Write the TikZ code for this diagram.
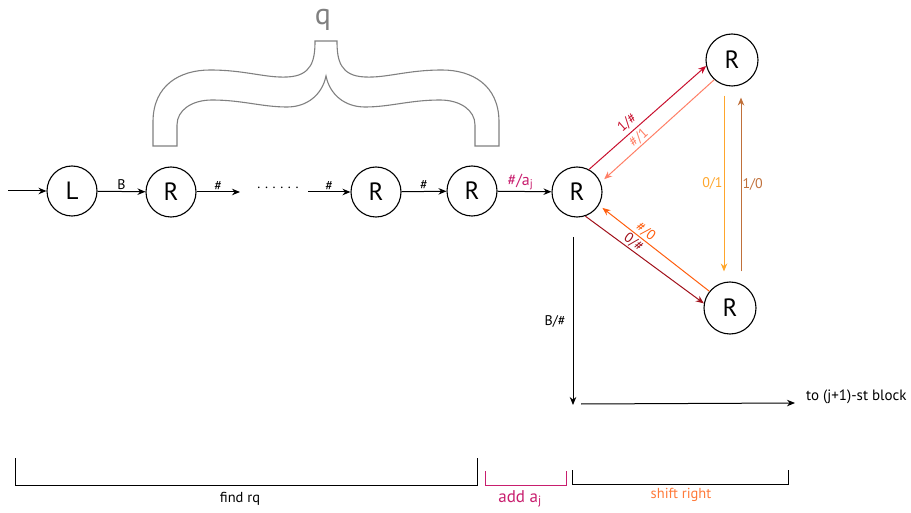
\documentclass[tikz,border=0pt]{standalone}
\usepackage{fontspec}
\setmainfont{PT Sans}
\usetikzlibrary{arrows.meta,calc}
\definecolor{mag}{HTML}{C81E6E}
\definecolor{redA}{HTML}{C8102E}
\definecolor{salm}{HTML}{FF7F66}
\definecolor{yell}{HTML}{FFA62B}
\definecolor{brwn}{HTML}{C0703A}
\definecolor{orng}{HTML}{FF5E0E}
\definecolor{dred}{HTML}{A0101A}
\definecolor{brk}{HTML}{FF7A3A}
\definecolor{bgrey}{HTML}{808080}
\begin{document}
\begin{tikzpicture}[x=1pt,y=-1pt,
  state/.style={circle,draw,line width=1.1pt,minimum size=50pt,inner sep=0pt,font=\fontsize{25}{27}\selectfont},
  arr/.style={-{Stealth[length=8pt,width=6.5pt]},line width=1pt},
  lbl/.style={font=\fontsize{14}{16}\selectfont,inner sep=1pt},
  brk/.style={line width=1pt}]
\useasboundingbox (0,0) rectangle (911,513);
% states
\node[state] (L) at (72,191) {L};
\node[state] (R1) at (171,192) {R};
\node[state] (R2) at (376,192) {R};
\node[state] (R3) at (472,191) {R};
\node[state] (R4) at (577,192) {R};
\node[state,minimum size=52pt] (Rt) at (732,60) {R};
\node[state,minimum size=52pt] (Rb) at (730,308) {R};
% chain
\coordinate (st) at (8,191);
\draw[arr] (st) -- (L);
\draw[arr] (L) -- node[lbl,above] {B} (R1);
\coordinate (d1) at (240,192);
\draw[arr] (R1) -- node[lbl,above] {\#} (d1);
\node[font=\fontsize{14}{14}\selectfont] (dots) at (278,188) {.\,\,.\,\,.\,\,.\,\,.\,\,.};
\coordinate (d2) at (308,192);
\draw[arr] (d2) -- node[lbl,above] {\#} (R2);
\draw[arr] (R2) -- node[lbl,above] {\#} (R3);
\draw[arr] (R3) -- node[lbl,above,text=mag,font=\fontsize{16}{18}\selectfont,xshift=-4pt] {\#/a$_{\mathrm{j}}$} (R4);
% triangle
\draw[arr,redA] (R4.62) -- node[lbl,above=2pt,sloped,text=redA,pos=0.38] {1/\#} (Rt.193);
\draw[arr,salm] (Rt.228) -- node[lbl,above,sloped,text=salm,pos=0.64] {\#/1} ($(R4.25)+(4,-2)$);
\draw[arr,yell] ($(Rt.south)+(-8,9)$) -- node[lbl,left,text=yell] {0/1} ($(Rb.north)+(-6,-10)$);
\draw[arr,brwn] ($(Rb.north)+(11,-10)$) -- node[lbl,right,text=brwn] {1/0} ($(Rt.south)+(9,11)$);
\draw[arr,orng] (Rb.141) -- node[lbl,above,sloped,text=orng,pos=0.64] {\#/0} ($(R4.-33)+(4,2)$);
\draw[arr,dred] (R4.-71) -- node[lbl,above,sloped,text=dred,pos=0.37] {0/\#} (Rb.170);
% exit
\coordinate (bs) at (573,237);
\coordinate (be) at (573,405);
\draw[arr] (bs) -- node[lbl,left,xshift=-6pt] {B/\#} (be);
\coordinate (hs) at (581,404);
\coordinate (he) at (795,403);
\draw[arr] (hs) -- (he);
\node[lbl,anchor=west,font=\fontsize{15}{17}\selectfont] (blk) at (805,397) {to (j+1)-st block};
% brace
\draw[bgrey,line width=1.1pt] (153,146) -- (153,122) .. controls (153,85) and (180,70) .. (210,70) .. controls (245,70) and (265,78) .. (287,77) .. controls (312,76) and (315,60) .. (315,41) -- (337,41) .. controls (337,60) and (340,76) .. (365,77) .. controls (387,78) and (407,70) .. (442,70) .. controls (472,70) and (499,85) .. (499,122) -- (499,146) -- (475,146) -- (475,125) .. controls (475,110) and (460,100) .. (440,100) .. controls (410,100) and (390,107) .. (365,107) .. controls (345,107) and (330,95) .. (326,76) .. controls (322,95) and (307,107) .. (287,107) .. controls (262,107) and (242,100) .. (212,100) .. controls (192,100) and (177,110) .. (177,125) -- (177,146) -- cycle;
\node[text=bgrey,font=\fontsize{30}{30}\selectfont] (q) at (323,20) {q};
% bottom brackets
\draw[brk] (15,458) -- (15,485) -- (477,485) -- (477,458);
\node[lbl,font=\fontsize{14.5}{16}\selectfont] (f) at (240,499) {find rq};
\draw[brk,mag] (485,471) -- (485,485) -- (566,485) -- (566,471);
\node[lbl,text=mag,font=\fontsize{17}{19}\selectfont] (a) at (520,499) {add a$_{\mathrm{j}}$};
\draw[brk,brk] (572,470) -- (572,484) -- (788,484) -- (788,470);
\node[lbl,text=brk,font=\fontsize{14.5}{16}\selectfont] (s) at (681,495) {shift right};
\end{tikzpicture}
\end{document}
